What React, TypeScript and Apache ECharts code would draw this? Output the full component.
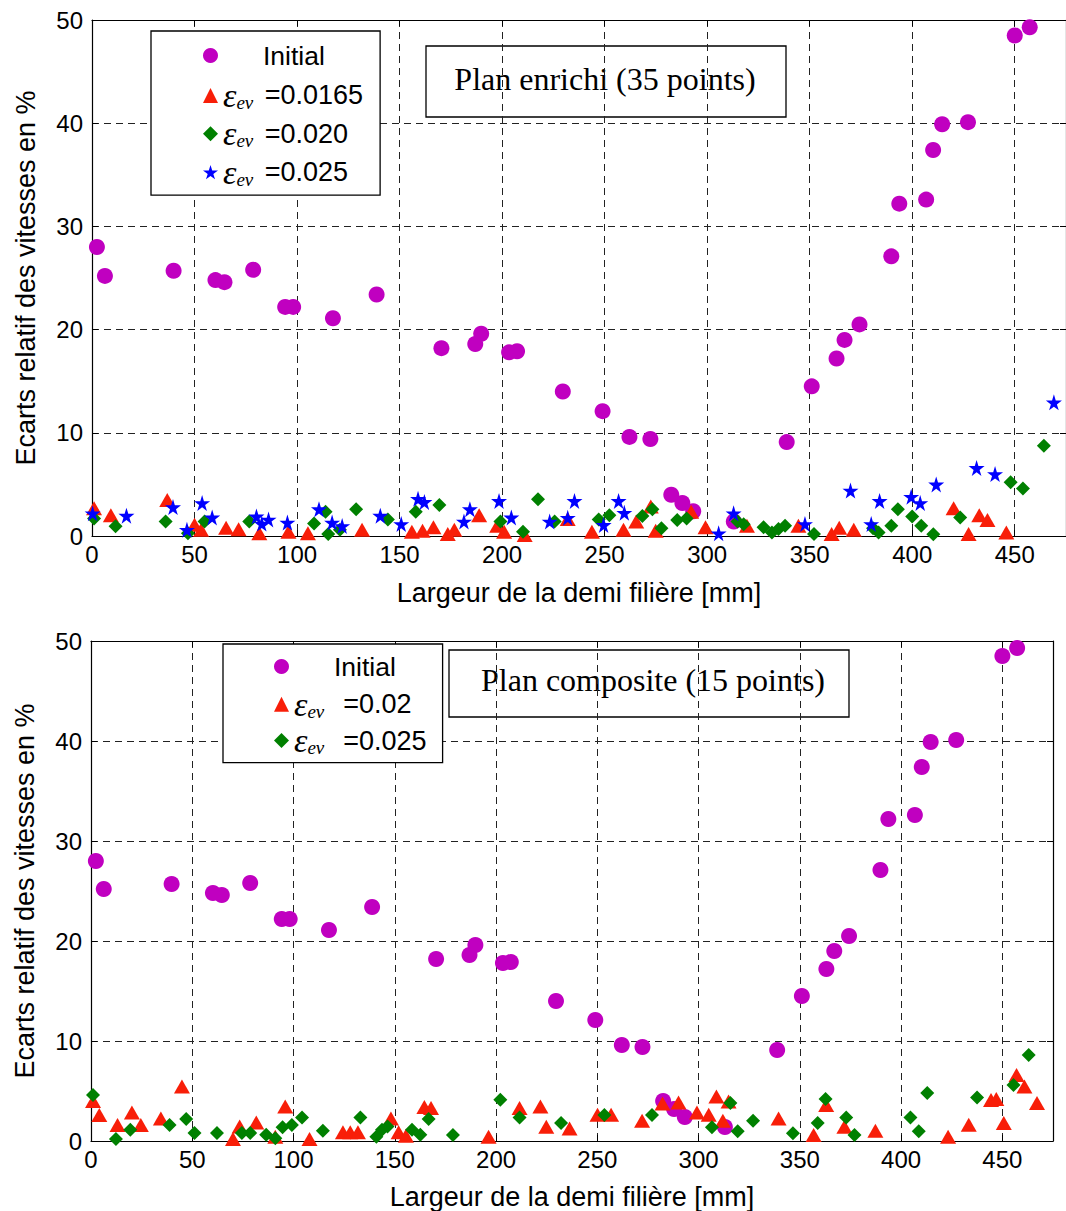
import React, { useEffect, useRef } from "react";
import * as echarts from "echarts";

// ---------- DATA ----------
// Initial deviations (same in both panels): [x mm, %]
const initialPts: number[][] = [
  [2.4, 28.0], [6.3, 25.2], [39.8, 25.7], [60.2, 24.8], [64.6, 24.6], [78.6, 25.8],
  [94.2, 22.2], [98.1, 22.2], [117.5, 21.1], [138.8, 23.4], [170.4, 18.2], [186.9, 18.6],
  [189.8, 19.6], [203.4, 17.8], [207.3, 17.9], [229.6, 14.0], [249, 12.1], [262.1, 9.6],
  [272.3, 9.4], [282.5, 4.0], [287.9, 3.2], [293.2, 2.4], [313, 1.4], [338.8, 9.1],
  [351, 14.5], [363.1, 17.2], [367, 19.0], [374.3, 20.5], [389.8, 27.1], [393.7, 32.2],
  [406.8, 32.6], [410.2, 37.4], [414.6, 39.9], [427.2, 40.1], [450, 48.5], [457.3, 49.3],
];

// Top panel (Plan enrichi)
const topEps0165: number[][] = [
  [1, 2.7], [9.2, 2.0], [36.7, 3.5], [50, 1.1], [53.2, 0.6], [65.4, 0.8], [71.5, 0.65],
  [81.6, 0.26], [95.8, 0.4], [105.3, 0.26], [131.7, 0.6], [156, 0.4], [161.2, 0.5],
  [166.5, 0.85], [173.5, 0.2], [176.7, 0.6], [188.8, 2.0], [197.6, 1.0], [201, 0.4],
  [211, 0.1], [232, 1.65], [243.8, 0.4], [259.2, 0.6], [265.4, 1.4], [272.5, 2.85],
  [274.9, 0.5], [292.2, 2.35], [299.2, 0.85], [319.4, 1.0], [344.5, 1.0], [360.7, 0.2],
  [364.4, 0.8], [371.5, 0.6], [420.2, 2.7], [427.5, 0.2], [432.7, 2.0], [436.7, 1.55],
  [445.9, 0.35],
];
const topEps020: number[][] = [
  [1, 1.7], [11.5, 0.95], [35.9, 1.4], [46.8, 0.26], [54.9, 1.4], [76.7, 1.4], [108.3, 1.2],
  [113.9, 2.35], [115.2, 0.2], [120.9, 0.6], [128.8, 2.6], [144.3, 1.6], [157.9, 2.35],
  [169.4, 3.0], [199.2, 1.4], [210.2, 0.4], [217.5, 3.55], [225.6, 1.4], [247.1, 1.6],
  [252.3, 2.0], [268.4, 1.95], [273.3, 2.6], [277.7, 0.75], [285.4, 1.55], [290, 1.7],
  [314.8, 1.4], [317.8, 1.15], [327.5, 0.85], [331.6, 0.35], [334.8, 0.68], [338, 1.0],
  [352.1, 0.2], [380.9, 0.75], [383.6, 0.35], [389.8, 1.0], [393, 2.6], [400, 1.9],
  [404.4, 1.0], [410.3, 0.17], [423.4, 1.8], [448, 5.2], [454, 4.6], [464.2, 8.75],
];
const topEps025: number[][] = [
  [0.3, 2.2], [16.8, 1.97], [39.5, 2.8], [46.3, 0.6], [53.7, 3.2], [58.6, 1.8], [80.2, 1.9],
  [82.8, 1.2], [86.1, 1.6], [95.3, 1.3], [110.7, 2.6], [117.1, 1.3], [122, 0.97],
  [140.6, 1.97], [150.8, 1.16], [159, 3.6], [162.1, 3.3], [181.4, 1.4], [184.3, 2.6],
  [198.5, 3.4], [204.5, 1.8], [223.2, 1.4], [232, 1.77], [235.3, 3.4], [249.5, 1.07],
  [256.8, 3.4], [259.6, 2.25], [305.6, 0.26], [312.9, 2.2], [347.7, 1.16], [369.9, 4.4],
  [380, 1.16], [384.1, 3.4], [399.5, 3.8], [403.9, 3.2], [411.7, 5.0], [431.4, 6.6],
  [440.4, 6.0], [469.1, 12.95],
];

// Bottom panel (Plan composite)
const botEps02: number[][] = [
  [1, 4.0], [4.1, 2.6], [13.1, 1.6], [20.2, 2.85], [24.6, 1.6], [34.5, 2.25], [44.9, 5.45],
  [70.1, 0.2], [73.4, 1.45], [81.6, 1.85], [91, 0.43], [95.9, 3.45], [107.9, 0.2],
  [124.4, 0.87], [128, 0.87], [131.8, 0.87], [148.1, 2.26], [151.9, 0.87], [155.5, 0.53],
  [164.6, 3.4], [167.9, 3.3], [196.3, 0.43], [211.6, 3.3], [221.9, 3.46], [224.8, 1.43],
  [236.3, 1.26], [250.1, 2.63], [256.8, 2.63], [272.1, 2.03], [282.2, 3.76], [290.1, 3.86],
  [299.2, 2.86], [305, 2.63], [308.8, 4.46], [312, 2.03], [314.8, 3.96], [339.5, 2.26],
  [356.8, 0.6], [363, 3.6], [372, 1.43], [387.3, 1.03], [423.2, 0.43], [433.4, 1.63],
  [444.4, 4.1], [447, 4.2], [450.7, 1.8], [457, 6.6], [460.9, 5.45], [467.1, 3.8],
];
const botEps025: number[][] = [
  [1, 4.6], [12.3, 0.2], [19.4, 1.13], [38.8, 1.6], [47, 2.2], [51.1, 0.8], [62.2, 0.8],
  [74.5, 0.8], [78.6, 0.8], [86.5, 0.63], [91, 0.27], [94.6, 1.37], [99.2, 1.6],
  [104.2, 2.36], [114.5, 1.03], [133, 2.36], [140.9, 0.43], [143.7, 1.13], [146.4, 1.46],
  [158.5, 1.13], [162.6, 0.63], [166.7, 2.2], [178.7, 0.6], [202.1, 4.12], [211.6, 2.36],
  [232.1, 1.8], [253.5, 2.6], [277, 2.6], [306.6, 1.37], [315.7, 3.8], [319.3, 0.97],
  [326.9, 2.03], [346.6, 0.77], [358.8, 1.8], [362.7, 4.2], [372.9, 2.36], [377, 0.6],
  [404.6, 2.36], [408.7, 0.97], [412.9, 4.8], [437.5, 4.36], [455.5, 5.6], [463, 8.6],
];

const xTitle = "Largeur de la demi filière [mm]";
const yTitle = "Ecarts relatif des vitesses en %";
const topTitle = "Plan enrichi (35 points)";
const botTitle = "Plan composite (15 points)";

// legend keys -> displayed labels
const legendLabels: Record<string, string> = {
  "Initial": "{ini|Initial}",
  "eps 0.0165": "{eps|ε}{sub|ev}{val| =0.0165}",
  "eps 0.020": "{eps|ε}{sub|ev}{val| =0.020}",
  "eps 0.025": "{eps|ε}{sub|ev}{val| =0.025}",
  "Initial (composite)": "{ini|Initial}",
  "eps 0.02 (composite)": "{eps|ε}{sub|ev}{val|  =0.02}",
  "eps 0.025 (composite)": "{eps|ε}{sub|ev}{val|  =0.025}",
};

const FONT = '"Liberation Sans", Arial, Helvetica, sans-serif';
const SERIF = '"Liberation Serif", "Times New Roman", serif';
const MAGENTA = "#c000c0";
const RED = "#f81e08";
const GREEN = "#008000";
const BLUE = "#0000ff";
const STAR = "path://M50,0 L61,35 L98,35 L68,57 L79,91 L50,70 L21,91 L32,57 L2,35 L39,35 Z";

export default function App() {
  const ref = useRef<HTMLDivElement>(null);

  useEffect(() => {
    document.body.style.margin = "0";
    if (!ref.current) return;
    const chart = echarts.init(ref.current, undefined, { renderer: "svg" });

    const dash = { color: "#222", width: 1, type: [7, 5] as number[] };
    const mkX = (gridIndex: number, nameGap: number) => [
      {
        gridIndex, type: "value", min: 0, max: 475, interval: 50,
        name: xTitle, nameLocation: "middle", nameGap,
        nameTextStyle: { fontFamily: FONT, fontSize: 27, color: "#000" },
        axisLine: { show: true, onZero: false, lineStyle: { color: "#000", width: 1.2 } },
        axisTick: { show: true, inside: true, length: 6, lineStyle: { color: "#000" } },
        axisLabel: {
          fontFamily: FONT, fontSize: 24, color: "#000", margin: 6, showMaxLabel: false,
          formatter: (v: number) => (v % 50 === 0 ? String(v) : ""),
        },
        splitLine: { show: true, lineStyle: dash },
      },
      {
        gridIndex, type: "value", min: 0, max: 475, interval: 50, position: "top",
        axisLine: { show: true, onZero: false, lineStyle: { color: "#000", width: 1.2 } },
        axisTick: { show: true, inside: true, length: 6, lineStyle: { color: "#000" } },
        axisLabel: { show: false },
        splitLine: { show: false },
      },
    ];
    const mkY = (gridIndex: number) => [
      {
        gridIndex, type: "value", min: 0, max: 50, interval: 10,
        name: yTitle, nameLocation: "middle", nameGap: 53,
        nameTextStyle: { fontFamily: FONT, fontSize: 27, color: "#000" },
        axisLine: { show: true, onZero: false, lineStyle: { color: "#000", width: 1.2 } },
        axisTick: { show: true, inside: true, length: 6, lineStyle: { color: "#000" } },
        axisLabel: { fontFamily: FONT, fontSize: 24, color: "#000", margin: 9 },
        splitLine: { show: true, lineStyle: dash },
      },
      {
        gridIndex, type: "value", min: 0, max: 50, interval: 10, position: "right",
        axisLine: { show: true, onZero: false, lineStyle: { color: "#000", width: 1.2 } },
        axisTick: { show: true, inside: true, length: 6, lineStyle: { color: "#000" } },
        axisLabel: { show: false },
        splitLine: { show: false },
      },
    ];

    const rich = {
      ini: { fontFamily: FONT, fontSize: 26.5, color: "#000", lineHeight: 33, padding: [5, 0, 5, 40] },
      eps: { fontFamily: SERIF, fontStyle: "italic", fontSize: 34, color: "#000", lineHeight: 33 },
      sub: { fontFamily: SERIF, fontStyle: "italic", fontSize: 19, color: "#000", lineHeight: 16, verticalAlign: "bottom" },
      val: { fontFamily: FONT, fontSize: 27, color: "#000", lineHeight: 33, padding: [0, 0, 0, 4] },
    };

    const sc = (name: string, data: number[][], xi: number, yi: number, symbol: string, size: any, color: string) => ({
      name, type: "scatter", xAxisIndex: xi, yAxisIndex: yi, data,
      symbol, symbolSize: size, itemStyle: { color, opacity: 1 },
      emphasis: { disabled: true },
    });

    const option: any = {
      animation: false,
      backgroundColor: "#fff",
      grid: [
        { left: 92, top: 20, width: 979, height: 516, show: false },
        { left: 91, top: 641, width: 962, height: 501, show: false },
      ],
      xAxis: [...mkX(0, 43), ...mkX(1, 42)],
      yAxis: [...mkY(0), ...mkY(1)],
      legend: [
        {
          data: ["Initial", "eps 0.0165", "eps 0.020", "eps 0.025"],
          orient: "vertical", left: 151, top: 31, itemWidth: 15, itemHeight: 15, itemGap: 4.4,
          padding: [6, 17, 6, 52], borderColor: "#000", borderWidth: 1.3, backgroundColor: "#fff",
          formatter: (n: string) => legendLabels[n], textStyle: { rich },
          selectedMode: false,
        },
        {
          data: ["Initial (composite)", "eps 0.02 (composite)", "eps 0.025 (composite)"],
          orient: "vertical", left: 223, top: 644, itemWidth: 15, itemHeight: 15, itemGap: 2.3,
          padding: [4, 16, 5, 51], borderColor: "#000", borderWidth: 1.3, backgroundColor: "#fff",
          formatter: (n: string) => legendLabels[n], textStyle: { rich },
          selectedMode: false,
        },
      ],
      graphic: [
        {
          type: "group", z: 100,
          children: [
            { type: "rect", shape: { x: 426, y: 46, width: 360, height: 71 }, style: { fill: "#fff", stroke: "#000", lineWidth: 1.3 } },
            { type: "text", style: { text: topTitle, x: 605, y: 79, align: "center", verticalAlign: "middle", fontFamily: SERIF, fontSize: 32, fill: "#000" } },
            { type: "rect", shape: { x: 449, y: 650, width: 400, height: 67 }, style: { fill: "#fff", stroke: "#000", lineWidth: 1.3 } },
            { type: "text", style: { text: botTitle, x: 653, y: 680, align: "center", verticalAlign: "middle", fontFamily: SERIF, fontSize: 32, fill: "#000" } },
          ],
        },
      ],
      series: [
        sc("Initial", initialPts, 0, 0, "circle", 16, MAGENTA),
        sc("eps 0.0165", topEps0165, 0, 0, "triangle", [16, 14], RED),
        sc("eps 0.020", topEps020, 0, 0, "diamond", [14, 14], GREEN),
        sc("eps 0.025", topEps025, 0, 0, STAR, 16, BLUE),
        sc("Initial (composite)", initialPts, 2, 2, "circle", 16, MAGENTA),
        sc("eps 0.02 (composite)", botEps02, 2, 2, "triangle", [16, 14], RED),
        sc("eps 0.025 (composite)", botEps025, 2, 2, "diamond", [14, 14], GREEN),
      ],
    };
    chart.setOption(option);
    return () => chart.dispose();
  }, []);

  return <div ref={ref} style={{ width: 1066, height: 1211 }} />;
}
